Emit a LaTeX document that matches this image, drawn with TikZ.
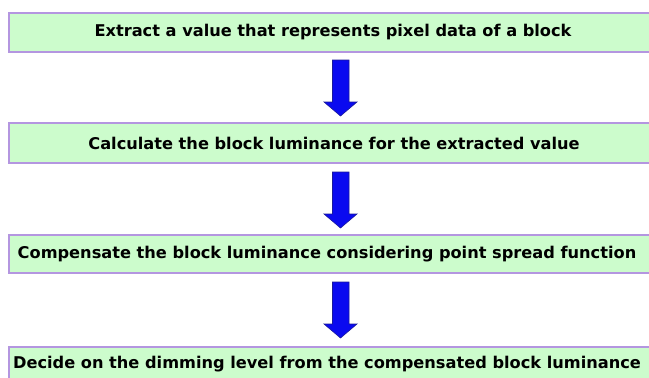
\documentclass[tikz,border=0pt]{standalone}
\usepackage{fontspec}
\setmainfont{DejaVu Sans}
\definecolor{boxfill}{HTML}{CCFCCC}
\definecolor{boxline}{HTML}{B496E0}
\definecolor{arrblue}{HTML}{0A0AF0}
\definecolor{arredge}{HTML}{1A1A9A}
\begin{document}
\begin{tikzpicture}[x=1pt,y=-1pt,
  stepbox/.style={draw=boxline, line width=2pt, fill=boxfill, minimum width=646pt,
    inner sep=0pt},
  steptext/.style={inner sep=0pt, font=\fontsize{16.2}{19}\selectfont\bfseries},
  blockarrow/.style={fill=arrblue, draw=arredge, line width=0.6pt, line join=miter}]
\useasboundingbox (0,0) rectangle (649,378);
\begin{scope}
\clip (0,0) rectangle (649,378);
\node[stepbox, minimum height=39pt] (b1) at (332,32.5) {};
\node[stepbox, minimum height=40pt] (b2) at (332,143) {};
\node[stepbox, minimum height=38pt] (b3) at (332,254) {};
\node[stepbox, minimum height=40pt] (b4) at (332,367) {};
\end{scope}
\node[steptext] (t1) at (333,32.5) {Extract a value that represents pixel data of a block};
\node[steptext] (t2) at (334,143) {Calculate the block luminance for the extracted value};
\node[steptext] (t3) at (327,254) {Compensate the block luminance considering point spread function};
\node[steptext] (t4) at (327,364) {Decide on the dimming level from the compensated block luminance};
\foreach \t in {60,172,282}{
  \draw[blockarrow] (332.5,\t) -- (349,\t) -- (349,\t+42) -- (357,\t+42) -- (340.5,\t+56)
    -- (324,\t+42) -- (332.5,\t+42) -- cycle;
}
\end{tikzpicture}
\end{document}
